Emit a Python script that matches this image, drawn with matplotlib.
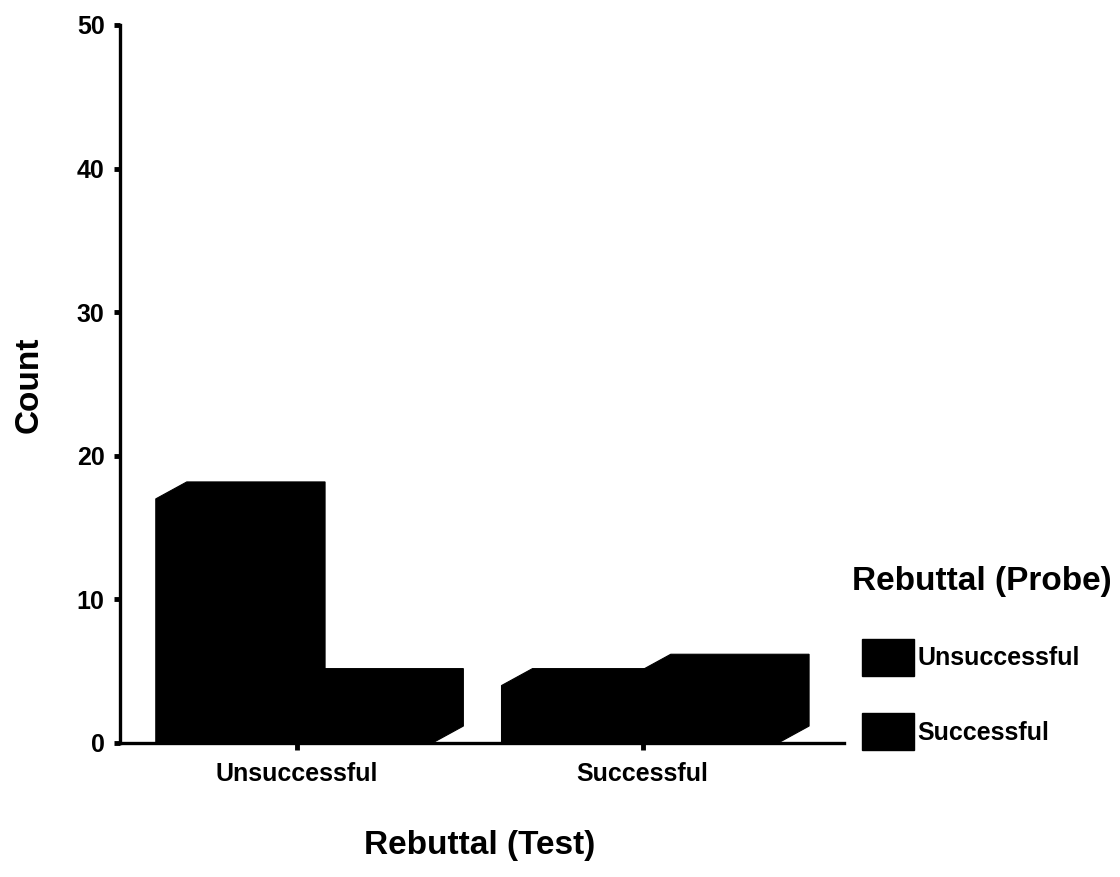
import matplotlib
matplotlib.use("Agg")
import matplotlib.pyplot as plt
from matplotlib.patches import Polygon, Patch
import numpy as np

plt.rcParams["font.family"] = ["Liberation Sans", "DejaVu Sans"]
plt.rcParams["font.weight"] = "bold"

# counts by Rebuttal (Test) group, one series per Rebuttal (Probe) outcome
test_groups = ["Unsuccessful", "Successful"]
probe_labels = ["Unsuccessful", "Successful"]
probe_unsuccessful = [17, 4]
probe_successful = [4, 5]
y_ticks = [0, 10, 20, 30, 40, 50]

fig = plt.figure(figsize=(11.2, 8.77), dpi=100)
ax = fig.add_axes([0.107, 0.1528, 0.647, 0.8187])

bar_w = 0.4
depth_x, depth_y = 0.0896, 1.18   # pseudo-3D offset of the back face
x = np.arange(len(test_groups))


def bar3d(ax, left, h, color="black"):
    # front face, side and top merged into one outline so no seams show
    outline = [(left, 0), (left + bar_w, 0),
               (left + bar_w + depth_x, depth_y),
               (left + bar_w + depth_x, h + depth_y),
               (left + depth_x, h + depth_y), (left, h)]
    ax.add_patch(Polygon(outline, closed=True, fc=color, ec=color, lw=0.8))


for i in range(len(test_groups)):
    bar3d(ax, x[i] - bar_w - 0.008, probe_unsuccessful[i])
    bar3d(ax, x[i] - 0.008, probe_successful[i])

ax.set_xlim(-0.512, 1.584)
ax.set_ylim(0, 50)
ax.set_yticks(y_ticks)
ax.set_xticks(x)
ax.set_xticklabels(test_groups, fontsize=18, fontweight="bold")
ax.tick_params(axis="y", labelsize=18, length=4, width=3.5, pad=7)
ax.tick_params(axis="x", length=5, width=3.5, pad=9)
for lab in ax.get_yticklabels():
    lab.set_fontweight("bold")

for s in ("top", "right"):
    ax.spines[s].set_visible(False)
for s in ("left", "bottom"):
    ax.spines[s].set_linewidth(2.4)

fig.text(0.026, 0.561, "Count", rotation=90, ha="center", va="center",
         fontsize=24, fontweight="bold")
fig.text(0.428, 0.036, "Rebuttal (Test)", ha="center", va="center",
         fontsize=24, fontweight="bold")

# legend: title set a little left of the swatches
fig.text(0.7607, 0.3273, "Rebuttal (Probe)", ha="left", va="baseline",
         fontsize=24, fontweight="bold")
handles = [Patch(fc="black", ec="black", label=l) for l in probe_labels]
ax.legend(handles=handles, loc="upper left",
          bbox_to_anchor=(0.7696, 0.2715), bbox_transform=fig.transFigure,
          frameon=False, borderpad=0, borderaxespad=0,
          prop={"size": 18, "weight": "bold"},
          handlelength=2.1, handleheight=1.9, handletextpad=0.12,
          labelspacing=1.5)

fig.savefig("out.png", dpi=100)
